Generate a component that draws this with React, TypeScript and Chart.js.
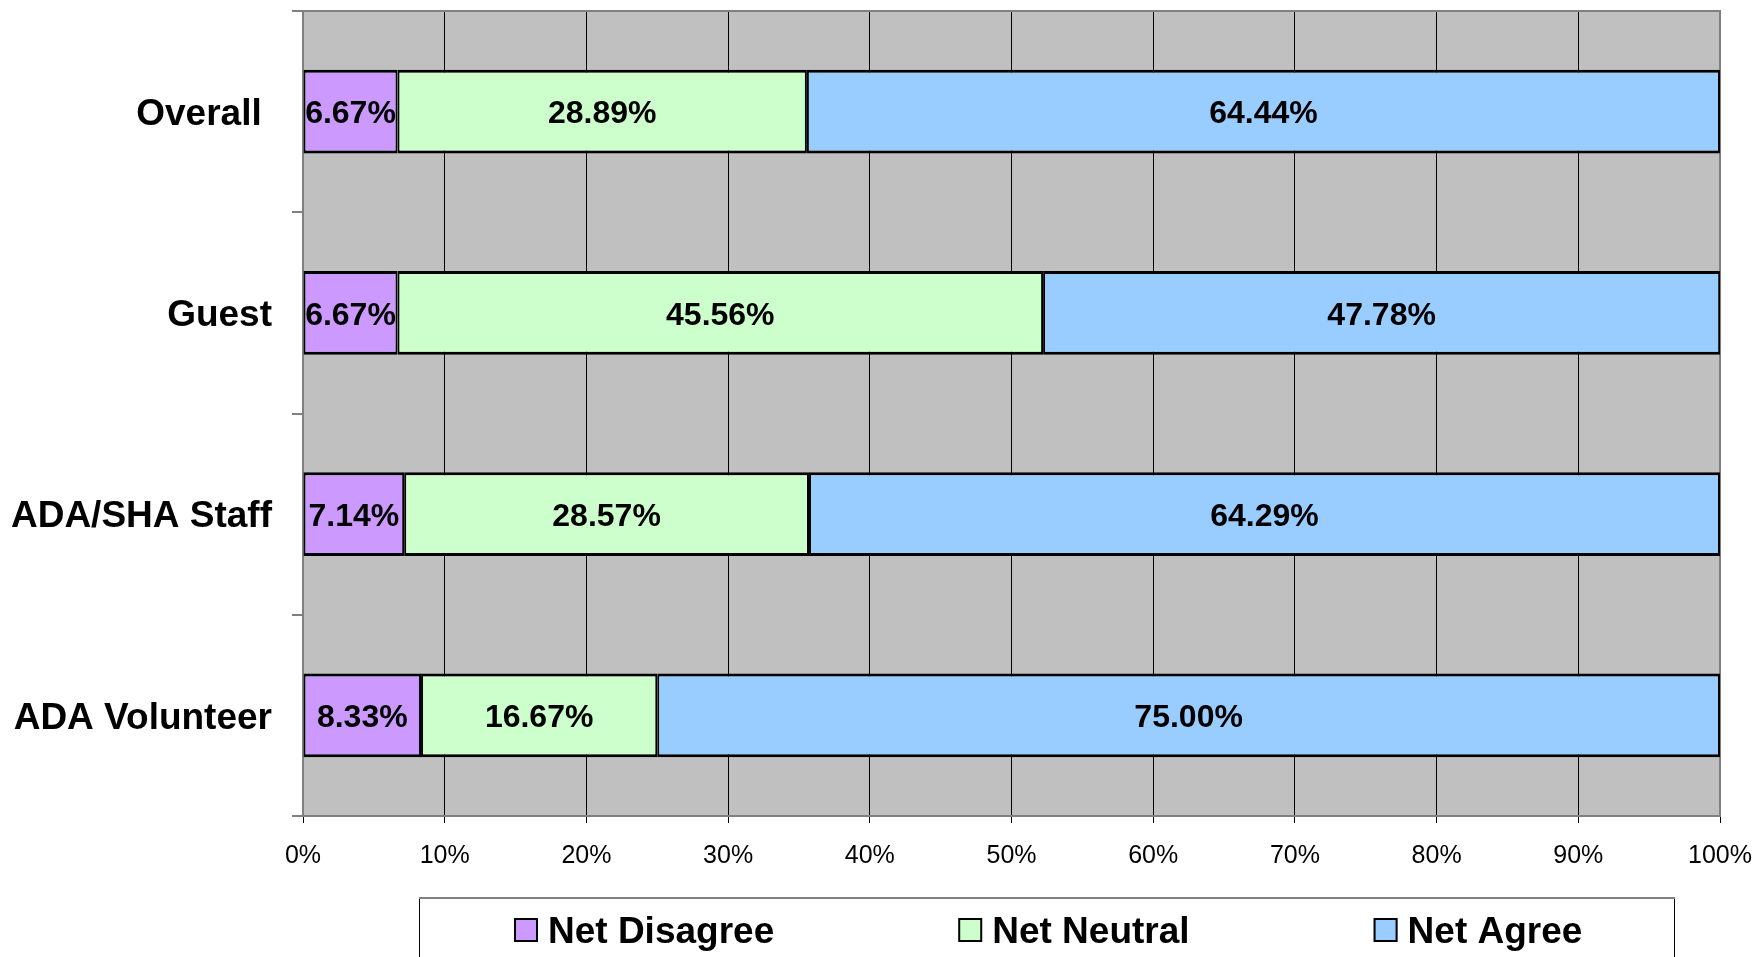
import React, { useEffect, useRef } from "react";
import { Chart, registerables } from "chart.js";

Chart.register(...registerables);

const categories = ["Overall ", "Guest", "ADA/SHA Staff", "ADA Volunteer"];
const seriesNames = ["Net Disagree", "Net Neutral", "Net Agree"];
const netDisagree = [6.67, 6.67, 7.14, 8.33];
const netNeutral = [28.89, 45.56, 28.57, 16.67];
const netAgree = [64.44, 47.78, 64.29, 75.0];
const seriesColors = ["#CC99FF", "#CCFFCC", "#99CCFF"];
const xMin = 0;
const xMax = 100;
const xStep = 10;

const FONT = "'Liberation Sans', Arial, Helvetica, sans-serif";

const plotBackground = {
  id: "plotBackground",
  beforeDraw(chart: any) {
    const { ctx, chartArea } = chart;
    ctx.save();
    ctx.fillStyle = "#C0C0C0";
    ctx.fillRect(chartArea.left, chartArea.top, chartArea.right - chartArea.left, chartArea.bottom - chartArea.top);
    ctx.restore();
  },
};

const plotFrame = {
  id: "plotFrame",
  beforeDatasetsDraw(chart: any) {
    const { ctx, chartArea } = chart;
    ctx.save();
    ctx.strokeStyle = "#808080";
    ctx.lineWidth = 2;
    ctx.beginPath();
    ctx.moveTo(chartArea.left, chartArea.top);
    ctx.lineTo(chartArea.right, chartArea.top);
    ctx.lineTo(chartArea.right, chartArea.bottom);
    ctx.stroke();
    ctx.restore();
  },
};

const valueLabels = {
  id: "valueLabels",
  afterDatasetsDraw(chart: any) {
    const { ctx } = chart;
    ctx.save();
    ctx.font = `bold 32px ${FONT}`;
    ctx.fillStyle = "#000";
    ctx.textAlign = "center";
    ctx.textBaseline = "middle";
    chart.data.datasets.forEach((ds: any, i: number) => {
      const meta = chart.getDatasetMeta(i);
      meta.data.forEach((el: any, j: number) => {
        const v = ds.data[j];
        const p = el.getCenterPoint();
        ctx.fillText(v.toFixed(2) + "%", p.x, p.y + 3);
      });
    });
    ctx.restore();
  },
};

const boxLegend = {
  id: "boxLegend",
  afterDraw(chart: any) {
    const { ctx, chartArea, height } = chart;
    const left = chartArea.left + 116;
    const right = chartArea.right - 45;
    const top = chartArea.bottom + 81;
    ctx.save();
    ctx.fillStyle = "#FFFFFF";
    ctx.fillRect(left, top, right - left, height - top);
    ctx.strokeStyle = "#000";
    ctx.lineWidth = 1;
    ctx.beginPath();
    ctx.moveTo(left + 0.5, top);
    ctx.lineTo(left + 0.5, height);
    ctx.moveTo(right - 0.5, top);
    ctx.lineTo(right - 0.5, height);
    ctx.stroke();
    ctx.strokeStyle = "#808080";
    ctx.lineWidth = 2;
    ctx.beginPath();
    ctx.moveTo(left, top + 1);
    ctx.lineTo(right, top + 1);
    ctx.stroke();

    ctx.font = `bold 37px ${FONT}`;
    ctx.textAlign = "left";
    ctx.textBaseline = "alphabetic";
    let x = left + 95;
    const box = 24;
    const boxTop = top + 21;
    chart.data.datasets.forEach((ds: any) => {
      ctx.fillStyle = ds.backgroundColor;
      ctx.fillRect(x, boxTop, box, box);
      ctx.strokeStyle = "#000";
      ctx.lineWidth = 2;
      ctx.strokeRect(x + 1, boxTop + 1, box - 2, box - 2);
      x += box + 10;
      ctx.fillStyle = "#000";
      ctx.fillText(ds.label, x, top + 46);
      x += ctx.measureText(ds.label).width + 184;
    });
    ctx.restore();
  },
};

export default function App() {
  const canvasRef = useRef<HTMLCanvasElement | null>(null);

  useEffect(() => {
    const canvas = canvasRef.current;
    if (!canvas) return;
    const seriesValues = [netDisagree, netNeutral, netAgree];
    const chart = new Chart(canvas, {
      type: "bar",
      data: {
        labels: categories,
        datasets: seriesNames.map((name, i) => ({
          label: name,
          data: seriesValues[i],
          backgroundColor: seriesColors[i],
          borderColor: "#000000",
          borderWidth: { top: 3, bottom: 3, left: 2, right: 2 },
          borderSkipped: false,
          categoryPercentage: 0.415,
          barPercentage: 1,
        })),
      },
      options: {
        indexAxis: "y",
        responsive: false,
        animation: false,
        devicePixelRatio: 1,
        layout: { padding: { top: 11, right: 37, left: 0, bottom: 0 } },
        plugins: {
          legend: { display: false },
          tooltip: { enabled: false },
        },
        scales: {
          x: {
            type: "linear",
            stacked: true,
            min: xMin,
            max: xMax,
            ticks: {
              stepSize: xStep,
              callback: (v: any) => v + "%",
              font: { family: FONT, size: 25 },
              color: "#000",
              padding: 18,
              maxRotation: 0,
            },
            grid: {
              color: "#000000",
              lineWidth: 1,
              tickLength: 7,
              drawTicks: true,
            },
            border: { display: true, color: "#808080", width: 2 },
            afterFit: (s: any) => {
              s.height = 141;
              s.paddingLeft = 0;
              s.paddingRight = 0;
              s.paddingTop = 0;
              s.paddingBottom = 0;
            },
          },
          y: {
            type: "category",
            stacked: true,
            offset: true,
            ticks: {
              font: { family: FONT, size: 37, weight: "bold" },
              color: "#000",
              padding: 20,
              labelOffset: 3,
            },
            grid: {
              offset: true,
              drawOnChartArea: false,
              drawTicks: true,
              tickLength: 11,
              color: "#808080",
              lineWidth: 2,
            },
            border: { display: true, color: "#808080", width: 2 },
            afterFit: (s: any) => {
              s.width = 303;
              s.paddingLeft = 0;
              s.paddingRight = 0;
              s.paddingTop = 0;
              s.paddingBottom = 0;
            },
          },
        },
      },
      plugins: [plotBackground, plotFrame, valueLabels, boxLegend],
    } as any);
    return () => chart.destroy();
  }, []);

  return (
    <div style={{ position: "absolute", left: 0, top: 0, width: 1757, height: 957, background: "#fff" }}>
      <canvas ref={canvasRef} width={1757} height={957} style={{ display: "block" }} />
    </div>
  );
}
